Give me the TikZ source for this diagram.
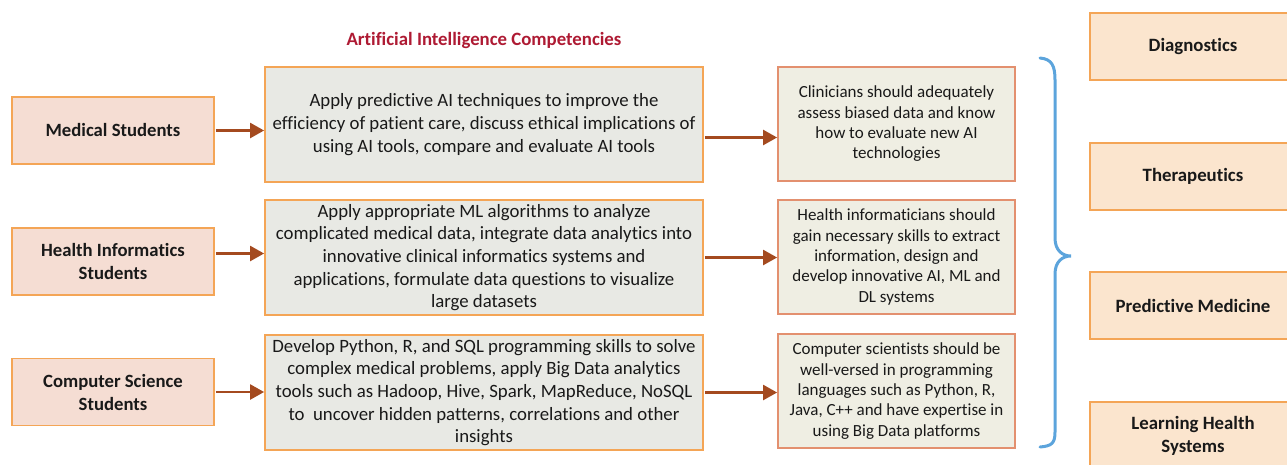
\documentclass[tikz,border=0pt]{standalone}
\usepackage{fontspec}
\setmainfont{Carlito}[Ligatures={NoCommon}]
\usetikzlibrary{arrows.meta,calc}
\definecolor{lfill}{HTML}{F5DDD3}
\definecolor{lborder}{HTML}{F4A556}
\definecolor{mfill}{HTML}{E8E9E4}
\definecolor{rfill}{HTML}{EFEEE3}
\definecolor{rborder}{HTML}{E3906F}
\definecolor{ffill}{HTML}{FBE5CE}
\definecolor{arrcol}{HTML}{A44A1F}
\definecolor{bracecol}{HTML}{5CA4DC}
\definecolor{titlecol}{HTML}{AE1A33}
\tikzset{
  lbox/.style={draw=lborder, fill=lfill, line width=1.8pt, minimum width=202pt, minimum height=67pt, align=center, inner sep=0pt, font=\fontsize{18.7}{23}\selectfont\bfseries, text=black!90},
  mbox/.style={draw=lborder, fill=mfill, line width=1.8pt, minimum width=438pt, minimum height=115pt, align=center, inner sep=0pt, font=\fontsize{18.8}{22.6}\selectfont, text=black!90},
  rbox/.style={draw=rborder, fill=rfill, line width=1.8pt, minimum width=237pt, minimum height=114pt, align=center, inner sep=0pt, font=\fontsize{17}{20.3}\selectfont, text=black!90},
  fbox/.style={draw=lborder, fill=ffill, line width=1.8pt, minimum width=206pt, minimum height=67pt, align=center, inner sep=0pt, font=\fontsize{18.8}{23}\selectfont\bfseries, text=black!90},
  arr/.style={draw=arrcol, line width=2.4pt, -{Triangle[length=14pt,width=15pt]}, shorten <=1pt},
}
\begin{document}
\begin{tikzpicture}[x=1pt,y=-1pt]
\useasboundingbox (0,0) rectangle (1287,464);
\node[font=\fontsize{18.8}{22}\selectfont\bfseries, text=titlecol] (title) at (484,40) {Artificial Intelligence Competencies};

\node[lbox] (ms) at (113,130.5) {Medical Students};
\node[lbox] (hi) at (113,261.5) {Health Informatics\\Students};
\node[lbox] (cs) at (113,392) {Computer Science\\Students};

\node[mbox] (m1) at (484,124.5) {Apply predictive AI techniques to improve the\\efficiency of patient care, discuss ethical implications of\\using AI tools, compare and evaluate AI tools};
\node[mbox] (m2) at (484,257.5) {Apply appropriate ML algorithms to analyze\\complicated medical data, integrate data analytics into\\innovative clinical informatics systems and\\applications, formulate data questions to visualize\\large datasets};
\node[mbox] (m3) at (484,392.5) {Develop Python, R, and SQL programming skills to solve\\complex medical problems, apply Big Data analytics\\tools such as Hadoop, Hive, Spark, MapReduce, NoSQL\\to\ \ uncover hidden patterns, correlations and other\\insights};

\node[rbox] (r1) at (896.5,124) {Clinicians should adequately\\assess biased data and know\\how to evaluate new AI\\technologies};
\node[rbox] (r2) at (896.5,257) {Health informaticians should\\gain necessary skills to extract\\information, design and\\develop innovative AI, ML and\\DL systems};
\node[rbox] (r3) at (896.5,391) {Computer scientists should be\\well-versed in programming\\languages such as Python, R,\\Java, C++ and have expertise in\\using Big Data platforms};

\node[fbox] (f1) at (1193,46.5) {Diagnostics};
\node[fbox] (f2) at (1193,176.5) {Therapeutics};
\node[fbox] (f3) at (1193,305.5) {Predictive Medicine};
\node[fbox] (f4) at (1193,435.5) {Learning Health\\Systems};

\draw[arr] (ms.east) -- (ms.east -| m1.west);
\draw[arr] ($(hi.east)+(0,-8)$) -- ($(hi.east -| m2.west)+(0,-8)$);
\draw[arr] (cs.east) -- (cs.east -| m3.west);

\coordinate (a1) at ($(m1.east)+(0,13)$);
\coordinate (a2) at (m2.east);
\coordinate (a3) at (m3.east);
\draw[arr] (a1) -- (a1 -| r1.west);
\draw[arr] (a2) -- (a2 -| r2.west);
\draw[arr] (a3) -- (a3 -| r3.west);

\draw[bracecol, line width=3pt, line cap=round]
  (1040,58) .. controls (1052,59) and (1055,66) .. (1055,80)
  -- (1055,238) .. controls (1055,250) and (1062,256) .. (1071,256)
  .. controls (1062,256) and (1055,262) .. (1055,274)
  -- (1055,432) .. controls (1055,443) and (1052,446) .. (1040,447);
\end{tikzpicture}
\end{document}
